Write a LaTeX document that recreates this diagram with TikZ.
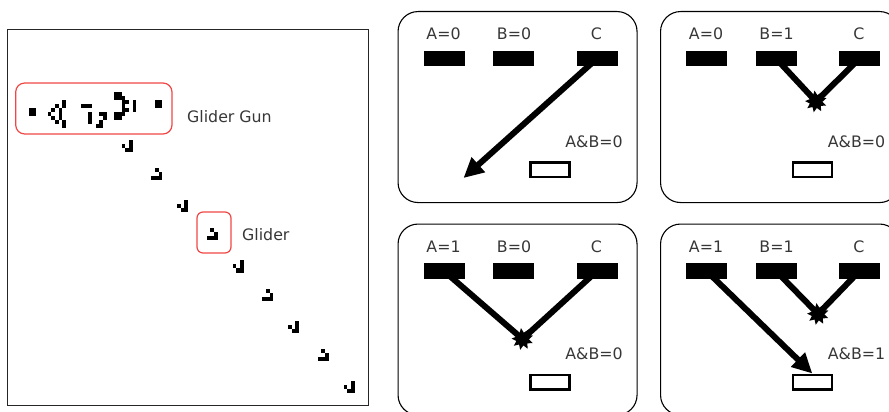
\documentclass[tikz,border=0pt]{standalone}
\usepackage{fontspec}
\setmainfont{DejaVu Sans}
\usetikzlibrary{arrows.meta,shapes.geometric,backgrounds}
\makeatletter
% --- Conway's Life: evolve the Gosper glider gun to the phase shown ---
\newcount\lf@x \newcount\lf@y \newcount\lf@n \newcount\lf@g
\def\lf@alive#1#2{\ifcsname lf\the\lf@g @\the\numexpr#1\relax @\the\numexpr#2\relax\endcsname 1\else 0\fi}
\def\lf@set{\expandafter\gdef\csname lf\the\numexpr\lf@g+1\relax @\the\lf@x @\the\lf@y\endcsname{}}
\def\lf@rowloop{%
  \lf@n=\numexpr\lf@alive{\lf@x-1}{\lf@y-1}+\lf@alive{\lf@x}{\lf@y-1}+\lf@alive{\lf@x+1}{\lf@y-1}%
    +\lf@alive{\lf@x-1}{\lf@y}+\lf@alive{\lf@x+1}{\lf@y}%
    +\lf@alive{\lf@x-1}{\lf@y+1}+\lf@alive{\lf@x}{\lf@y+1}+\lf@alive{\lf@x+1}{\lf@y+1}\relax
  \ifnum\lf@n=3 \lf@set\else\ifnum\lf@n=2 \ifcsname lf\the\lf@g @\the\lf@x @\the\lf@y\endcsname\lf@set\fi\fi\fi
  \advance\lf@x by 1
  \ifnum\lf@x<48 \expandafter\lf@rowloop\fi}
\def\lf@colloop{\lf@x=-3 \lf@rowloop \advance\lf@y by 1 \ifnum\lf@y<27 \expandafter\lf@colloop\fi}
\def\lfstep{\lf@y=-3 \lf@colloop \global\advance\lf@g by 1 }
\def\lfdraw{\lf@y=-3 \lf@dcol}
\def\lf@dcol{\lf@x=-3 \lf@drow \advance\lf@y by 1 \ifnum\lf@y<18 \expandafter\lf@dcol\fi}
\def\lf@drow{\ifcsname lf\the\lf@g @\the\lf@x @\the\lf@y\endcsname
   \edef\lf@cx{\the\lf@x}\edef\lf@cy{\the\lf@y}%
   \fill (\lf@cx,\lf@cy) rectangle ++(1,1);\fi
  \advance\lf@x by 1 \ifnum\lf@x<41 \expandafter\lf@drow\fi}
\global\lf@g=0
\foreach \x/\y in {24/0,22/1,24/1,12/2,13/2,20/2,21/2,34/2,35/2,11/3,15/3,20/3,21/3,34/3,35/3,0/4,1/4,10/4,16/4,20/4,21/4,0/5,1/5,10/5,14/5,16/5,17/5,22/5,24/5,10/6,16/6,24/6,11/7,15/7,12/8,13/8}{\expandafter\gdef\csname lf0@\x @\y\endcsname{}}
\foreach \i in {1,...,41}{\lfstep}
\makeatother
\definecolor{redbox}{RGB}{240,70,70}
\definecolor{txt}{RGB}{55,55,55}
\tikzset{
  cellgrid/.style={shift={(29,91.6)},x=3.7pt,y=-4.02pt},
  redframe/.style={draw=redbox,line width=1.2pt},
  panelbox/.style={draw=black,line width=1.1pt,rounded corners=20pt,inner sep=0pt},
  bar/.style={fill=black,minimum width=41pt,minimum height=15.5pt,inner sep=0pt},
  outbox/.style={draw=black,fill=white,line width=2.5pt,minimum width=39pt,minimum height=14.5pt,inner sep=0pt},
  lbl/.style={text=txt,font=\fontsize{15.8}{18}\selectfont,inner sep=0pt,anchor=base},
  wire/.style={line width=6pt},
  arr/.style={wire,-{Triangle[length=20pt,width=19pt]}},
  burst/.style={star,star points=9,star point ratio=1.7,fill=black,minimum size=22pt,inner sep=0pt,rotate=8},
}
\newcommand\glA[2]{\foreach \dx/\dy in {2/0,0/1,2/1,1/2,2/2}{\fill ({#1+\dx},{#2+\dy}) rectangle ++(1,1);}}
\newcommand\glB[2]{\foreach \dx/\dy in {1/0,2/1,0/2,1/2,2/2}{\fill ({#1+\dx},{#2+\dy}) rectangle ++(1,1);}}
\newcommand\gatepanel[6]{%
  \node[panelbox,minimum width=239pt,minimum height=191pt,anchor=north west] (#1box) at (#2,#3) {};
  \node[bar] (#1A) at ({#2+46.5},{#3+47.5}) {};
  \node[bar] (#1B) at ({#2+116},{#3+47.5}) {};
  \node[bar] (#1C) at ({#2+199.5},{#3+47.5}) {};
  \node[lbl] (#1la) at ({#2+46},{#3+28.5}) {#4};
  \node[lbl] (#1lb) at ({#2+116.5},{#3+28.5}) {#5};
  \node[lbl] (#1lc) at ({#2+199},{#3+28.5}) {C};
  \node[lbl] (#1lr) at ({#2+196.5},{#3+136}) {#6};
  \node[outbox] (#1out) at ({#2+152.3},{#3+158.5}) {};
}
\begin{document}
\begin{tikzpicture}[x=1pt,y=-1pt]
\useasboundingbox (0,0) rectangle (889,412);
\clip (0,0) rectangle (889,412);
% left: Game of Life field
\draw[black!85,line width=1pt] (7.3,30) rectangle (368,405);
\begin{scope}[cellgrid]
  \lfdraw
  \glB{33}{19}
  \glA{40}{27}
  \glB{48}{34}
  \glA{55}{42}
  \glB{63}{49}
  \glA{70}{57}
  \glB{78}{64}
  \glA{85}{72}
\end{scope}
\draw[redframe,rounded corners=9pt] (15.7,83) rectangle (172,134);
\draw[redframe,rounded corners=6pt] (197,212) rectangle (231,253);
\node[lbl,anchor=base west] (gunlabel) at (187,122.5) {Glider Gun};
\node[lbl,anchor=base west] (gliderlabel) at (242,240) {Glider};
% right: four gate panels
\gatepanel{p1}{397.5}{11}{A=0}{B=0}{A\&B=0}
\gatepanel{p2}{660}{11}{A=0}{B=1}{A\&B=0}
\gatepanel{p3}{397.5}{223.5}{A=1}{B=0}{A\&B=0}
\gatepanel{p4}{660}{223.5}{A=1}{B=1}{A\&B=1}
\coordinate (p1tip) at (463.5,178);
\node[burst] (p2s) at (816,101.5) {};
\node[burst] (p3s) at (522.5,339) {};
\node[burst] (p4s) at (818,314) {};
\begin{scope}[on background layer]
  \draw[arr] (p1C.center) -- (p1tip);
  \draw[wire] (p2B.center) -- (p2s.center);
  \draw[wire] (p2C.center) -- (p2s.center);
  \draw[wire] (p3A.center) -- (p3s.center);
  \draw[wire] (p3C.center) -- (p3s.center);
  \draw[wire] (p4B.center) -- (p4s.center);
  \draw[wire] (p4C.center) -- (p4s.center);
  \draw[arr] (p4A.center) -- (p4out.north);
\end{scope}
\end{tikzpicture}
\end{document}
